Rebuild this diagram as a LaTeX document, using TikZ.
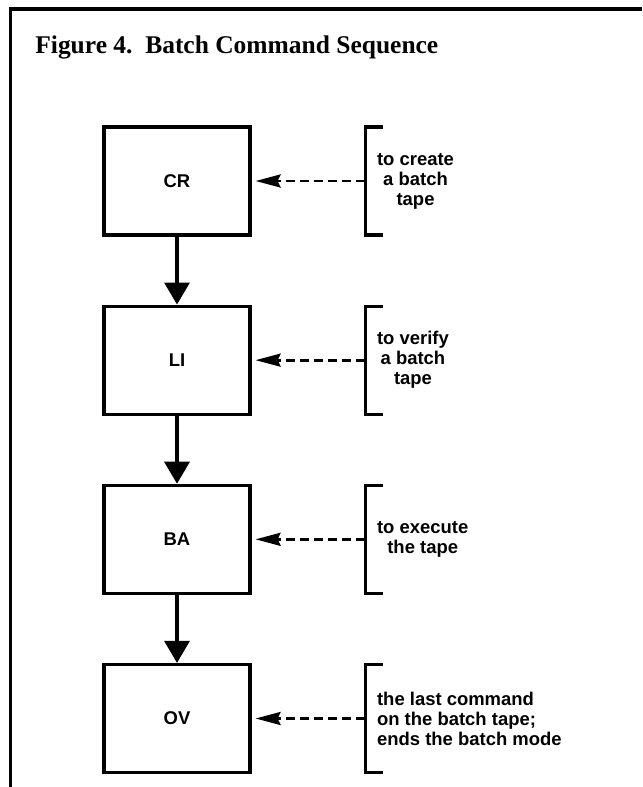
\documentclass[tikz,border=0pt]{standalone}
\usepackage{fontspec}
\usepackage{tikz}
\newfontfamily\notefont{Liberation Sans}
\newfontfamily\titlefont{Liberation Serif}
\usetikzlibrary{arrows.meta}
\usetikzlibrary{positioning}
\tikzset{cmdbox/.style = {draw, line width = 1.8pt, minimum width = 2.92cm,
                          minimum height = 2.16cm, inner sep = 0,
                          font = \notefont\bfseries\fontsize{10.5}{11.4}\selectfont}}
\tikzset{note/.style = {minimum height = 2.16cm, inner xsep = 0.24cm, inner ysep = 0,
                        outer sep = 0, anchor = west,
                        font = \notefont\bfseries\fontsize{10.5}{11.4}\selectfont}}
\tikzset{flow/.style = {line width = 1.8pt, -{Triangle[length = 0.44cm, width = 0.5cm]}}}
\tikzset{pointer/.style = {line width = 1.6pt, dash pattern = on 0.18cm off 0.1cm,
                           -{Stealth[length = 0.5cm, width = 0.26cm, inset = 0.06cm]},
                           shorten > = 0.08cm}}
\tikzset{bracket/.style = {line width = 1.8pt}}

\begin{document}
\begin{tikzpicture}
    \useasboundingbox (0, 0) rectangle (12.84, -15.74);
    \draw [line width = 1.8pt] (0.21, -15.74) |- (12.84, -0.18);
    \node (title) at (0.7, -1.08) [anchor = base west, inner sep = 0,
        font = \titlefont\bfseries\fontsize{14.5}{17}\selectfont]
        {Figure 4.\ \ Batch Command Sequence};
    \node (cr) at (3.54, -3.62) [cmdbox] {CR};
    \node (li) [cmdbox, below = 1.36cm of cr] {LI};
    \node (ba) [cmdbox, below = 1.36cm of li] {BA};
    \node (ov) [cmdbox, below = 1.36cm of ba] {OV};
    \node (crnote) [note, right = 2.27cm of cr, align = center] {to create\\a batch\\tape};
    \node (linote) [note, right = 2.27cm of li, align = center] {to verify\\a batch\\tape};
    \node (banote) [note, right = 2.27cm of ba, align = center] {to execute\\the tape};
    \node (ovnote) [note, right = 2.27cm of ov, align = left]
        {the last command\\on the batch tape;\\ends the batch mode};
    \foreach \n in {crnote, linote, banote, ovnote}
        \draw [bracket] ([xshift = 0.36cm] \n.north west) -| (\n.south west) -- ++(0.36, 0);
    \draw [flow] (cr) -- (li);
    \draw [flow] (li) -- (ba);
    \draw [flow] (ba) -- (ov);
    \draw [pointer] (crnote.west) -- (cr.east);
    \draw [pointer] (linote.west) -- (li.east);
    \draw [pointer] (banote.west) -- (ba.east);
    \draw [pointer] (ovnote.west) -- (ov.east);
\end{tikzpicture}
\end{document}
